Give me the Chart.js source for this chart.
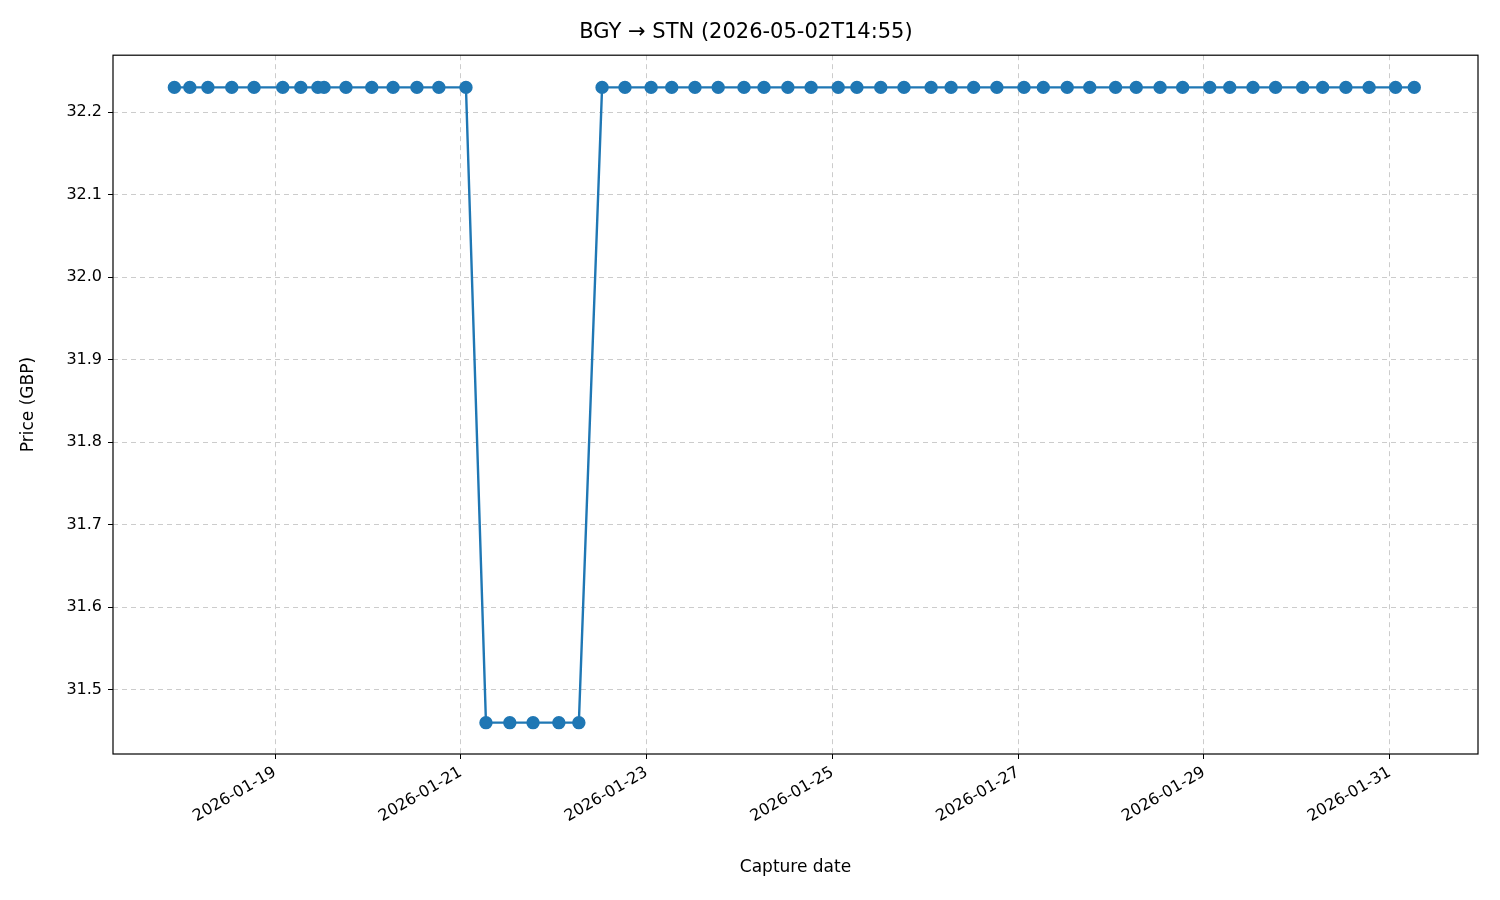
<!DOCTYPE html>
<html><head><meta charset="utf-8">
<script src="https://cdn.jsdelivr.net/npm/chart.js@4"></script>
<style>body{margin:0;background:#fff}#wrap{width:1500px;height:900px}</style>
</head><body><div id="wrap"><canvas id="chart"></canvas></div>
<script>
const captureTimes = [
  '2026-01-17T22:00','2026-01-18T02:00','2026-01-18T06:40','2026-01-18T12:50','2026-01-18T18:35',
  '2026-01-19T02:00','2026-01-19T06:40','2026-01-19T11:05','2026-01-19T12:40','2026-01-19T18:20',
  '2026-01-20T01:00','2026-01-20T06:30','2026-01-20T12:40','2026-01-20T18:20',
  '2026-01-21T01:20','2026-01-21T06:30','2026-01-21T12:40','2026-01-21T18:40',
  '2026-01-22T01:20','2026-01-22T06:30','2026-01-22T12:30','2026-01-22T18:25',
  '2026-01-23T01:10','2026-01-23T06:30','2026-01-23T12:30','2026-01-23T18:30',
  '2026-01-24T01:10','2026-01-24T06:20','2026-01-24T12:30','2026-01-24T18:30',
  '2026-01-25T01:30','2026-01-25T06:20','2026-01-25T12:30','2026-01-25T18:30',
  '2026-01-26T01:30','2026-01-26T06:40','2026-01-26T12:30','2026-01-26T18:30',
  '2026-01-27T01:30','2026-01-27T06:30','2026-01-27T12:40','2026-01-27T18:30',
  '2026-01-28T01:10','2026-01-28T06:30','2026-01-28T12:40','2026-01-28T18:30',
  '2026-01-29T01:30','2026-01-29T06:40','2026-01-29T12:40','2026-01-29T18:30',
  '2026-01-30T01:30','2026-01-30T06:40','2026-01-30T12:40','2026-01-30T18:40',
  '2026-01-31T01:30','2026-01-31T06:20'
];
const prices = [
  32.23,32.23,32.23,32.23,32.23,32.23,32.23,32.23,32.23,32.23,
  32.23,32.23,32.23,32.23,32.23,31.46,31.46,31.46,31.46,31.46,
  32.23,32.23,32.23,32.23,32.23,32.23,32.23,32.23,32.23,32.23,
  32.23,32.23,32.23,32.23,32.23,32.23,32.23,32.23,32.23,32.23,
  32.23,32.23,32.23,32.23,32.23,32.23,32.23,32.23,32.23,32.23,
  32.23,32.23,32.23,32.23,32.23,32.23
];
const xTickDates = ['2026-01-19','2026-01-21','2026-01-23','2026-01-25','2026-01-27','2026-01-29','2026-01-31'];
const yTicks = [31.5,31.6,31.7,31.8,31.9,32.0,32.1,32.2];

const toMs = s => Date.parse(s + (s.length === 10 ? 'T00:00:00Z' : ':00Z'));
const DAY = 86400000;
const x0 = toMs('2026-01-19');
const pts = captureTimes.map((t, i) => ({ x: toMs(t), y: prices[i] }));
const fmt = v => new Date(v).toISOString().slice(0, 10);
const font = { family: 'DejaVu Sans', size: 16 };

const frame = {
  id: 'frame',
  afterDraw(c) {
    const a = c.chartArea, ctx = c.ctx;
    ctx.save(); ctx.strokeStyle = '#000'; ctx.lineWidth = 1.2;
    ctx.strokeRect(a.left, a.top, a.right - a.left, a.bottom - a.top);
    ctx.restore();
  }
};

new Chart(document.getElementById('chart'), {
  type: 'line',
  data: { datasets: [{
    data: pts, borderColor: '#1f77b4', backgroundColor: '#1f77b4',
    borderWidth: 2.4, pointRadius: 5.5, pointHoverRadius: 5.5, tension: 0
  }]},
  options: {
    responsive: true, maintainAspectRatio: false, animation: false,
    layout: { padding: { top: 8, right: 22, left: 14, bottom: 18 } },
    plugins: {
      legend: { display: false }, tooltip: { enabled: false },
      title: { display: true, text: 'BGY → STN (2026-05-02T14:55)', color: '#000',
        font: { family: 'DejaVu Sans', size: 21, weight: 'normal' }, padding: { top: 12, bottom: 10 } }
    },
    scales: {
      x: {
        type: 'linear', min: x0 - 1.744 * DAY, max: x0 + 12.95 * DAY,
        afterBuildTicks: s => { s.ticks = xTickDates.map(d => ({ value: toMs(d) })); },
        afterFit: s => { s.height = 128; },
        ticks: { callback: v => fmt(v), color: '#000', font, minRotation: 30, maxRotation: 30, padding: 4 },
        grid: { color: '#cccccc', tickLength: 5, tickColor: '#000' },
        border: { display: false, dash: [5, 4] },
        title: { display: true, text: 'Capture date', color: '#000', font: { family: 'DejaVu Sans', size: 17 } }
      },
      y: {
        min: 31.422, max: 32.269,
        afterBuildTicks: s => { s.ticks = yTicks.map(v => ({ value: v })); },
        afterFit: s => { s.width = 99; },
        ticks: { callback: v => v.toFixed(1), color: '#000', font, padding: 6 },
        grid: { color: '#cccccc', tickLength: 5, tickColor: '#000' },
        border: { display: false, dash: [5, 4] },
        title: { display: true, text: 'Price (GBP)', color: '#000', font: { family: 'DejaVu Sans', size: 17 } }
      }
    }
  },
  plugins: [frame]
});
</script></body></html>
